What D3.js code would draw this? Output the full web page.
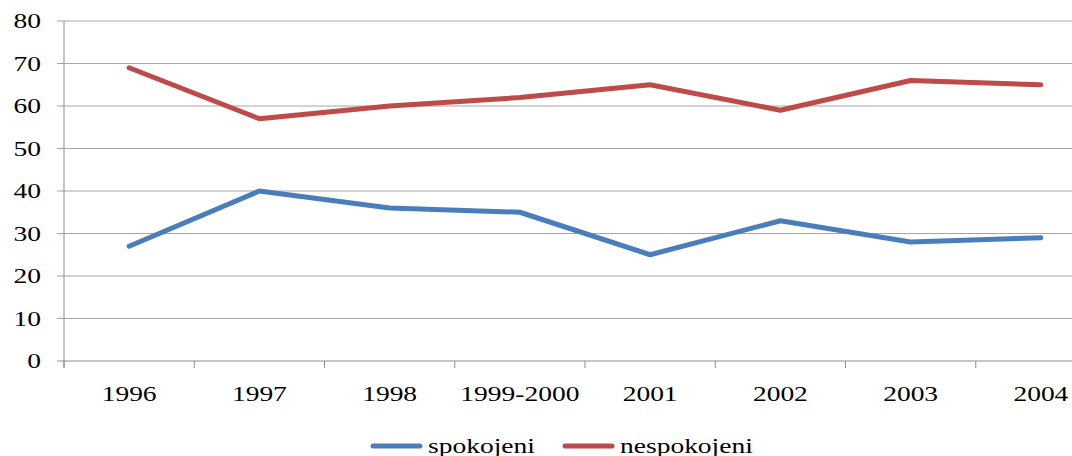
<!DOCTYPE html>
<html>
<head>
<meta charset="utf-8">
<script src="https://cdn.jsdelivr.net/npm/d3@7"></script>
<style>
  body { margin: 0; background: #fff; }
  svg text { font-family: "Liberation Serif", "Times New Roman", serif; font-size: 22px; fill: #000; }
</style>
</head>
<body>
<div id="chart"></div>
<script>
// values
var years = ["1996", "1997", "1998", "1999-2000", "2001", "2002", "2003", "2004"];
var spokojeni = [27, 40, 36, 35, 25, 33, 28, 29];
var nespokojeni = [69, 57, 60, 62, 65, 59, 66, 65];
var yTicks = [0, 10, 20, 30, 40, 50, 60, 70, 80];

var svgWidth = 1072;
var svgHeight = 456;
var stretch = 1.25; // text looks horizontally stretched

var svg = d3.select("#chart")
    .append("svg")
    .attr("width", svgWidth)
    .attr("height", svgHeight);

// plot runs past the right edge like in the original
var x = d3.scaleBand()
    .domain(years)
    .range([64, 1106])
    .padding(0);

var y = d3.scaleLinear()
    .domain([0, 80])
    .range([361, 21]);

// gridlines + y ticks
svg.append("g")
    .selectAll("line")
    .data(yTicks)
    .enter()
    .append("line")
    .attr("x1", 57)
    .attr("x2", svgWidth)
    .attr("y1", d => y(d))
    .attr("y2", d => y(d))
    .attr("stroke", d => d === 0 ? "#8c8c8c" : "#a6a6a6")
    .attr("stroke-width", 1);

// y axis line
svg.append("line")
    .attr("x1", 64).attr("x2", 64)
    .attr("y1", y(80)).attr("y2", y(0) + 7)
    .attr("stroke", "#8c8c8c");

// x ticks at band edges
svg.append("g")
    .selectAll("line")
    .data(years)
    .enter()
    .append("line")
    .attr("x1", d => x(d))
    .attr("x2", d => x(d))
    .attr("y1", y(0))
    .attr("y2", y(0) + 7)
    .attr("stroke", "#8c8c8c");

// y labels
svg.append("g")
    .selectAll("text")
    .data(yTicks)
    .enter()
    .append("text")
    .attr("text-anchor", "end")
    .attr("transform", d => "translate(41," + (y(d) + 7) + ") scale(" + stretch + ",1)")
    .text(d => d);

// x labels
svg.append("g")
    .selectAll("text")
    .data(years)
    .enter()
    .append("text")
    .attr("text-anchor", "middle")
    .attr("transform", d => "translate(" + (x(d) + x.bandwidth() / 2) + ",401) scale(" + stretch + ",1)")
    .text(d => d);

// lines
var line = d3.line()
    .x((d, i) => x(years[i]) + x.bandwidth() / 2)
    .y(d => y(d));

var series = [
    { name: "spokojeni", values: spokojeni, color: "#4a7ebb" },
    { name: "nespokojeni", values: nespokojeni, color: "#be4b48" }
];

svg.selectAll(".series")
    .data(series)
    .enter()
    .append("path")
    .attr("class", "series")
    .attr("d", d => line(d.values))
    .attr("fill", "none")
    .attr("stroke", d => d.color)
    .attr("stroke-width", 5)
    .attr("stroke-linejoin", "round")
    .attr("stroke-linecap", "round");

// legend at the bottom edge
var legendX = [373, 565];
var legend = svg.selectAll(".legend")
    .data(series)
    .enter()
    .append("g")
    .attr("class", "legend")
    .attr("transform", (d, i) => "translate(" + legendX[i] + ",446)");

legend.append("line")
    .attr("x1", 0).attr("x2", 47)
    .attr("y1", 0).attr("y2", 0)
    .attr("stroke", d => d.color)
    .attr("stroke-width", 5)
    .attr("stroke-linecap", "round");

legend.append("text")
    .attr("transform", "translate(55,7) scale(" + stretch + ",1)")
    .text(d => d.name);
</script>
</body>
</html>
